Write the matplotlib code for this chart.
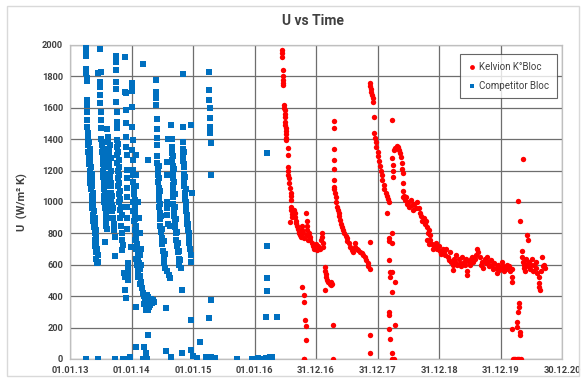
import numpy as np
import pandas as pd
import matplotlib
matplotlib.use('Agg')
import matplotlib.pyplot as plt
from matplotlib.patches import Rectangle

plt.rcParams['font.family'] = ['Roboto', 'DejaVu Sans']

# time is given in "grid years" (1.0 = 365 days after 01.01.13), U in W/m2K
competitor_points = [
    # early 2013 streak
    (2013.26, 2000), (2013.26, 1980), (2013.26, 1960), (2013.26, 1930), (2013.26, 1850),
    (2013.26, 1820), (2013.27, 1790), (2013.27, 1770), (2013.27, 1650), (2013.27, 1620),
    (2013.28, 1570), (2013.28, 1520), (2013.28, 1480), (2013.29, 1440), (2013.29, 1400),
    (2013.30, 1360), (2013.30, 1320), (2013.31, 1280), (2013.31, 1240), (2013.32, 1200),
    (2013.33, 1160), (2013.33, 1120), (2013.34, 1080), (2013.35, 1040), (2013.35, 1000),
    (2013.36, 960), (2013.37, 920), (2013.38, 880), (2013.39, 840), (2013.40, 800),
    (2013.40, 760), (2013.41, 720), (2013.42, 680), (2013.43, 640), (2013.44, 610),
    (2013.31, 1380), (2013.32, 1340), (2013.32, 1300), (2013.33, 1260), (2013.34, 1220),
    (2013.35, 1180), (2013.35, 1140), (2013.36, 1100), (2013.37, 1060), (2013.37, 1020),
    (2013.38, 980), (2013.39, 940), (2013.40, 900), (2013.41, 860), (2013.42, 820),
    (2013.42, 780), (2013.43, 740), (2013.44, 700), (2013.45, 660), (2013.45, 620),
    # mid 2013
    (2013.48, 1975), (2013.46, 1820), (2013.50, 1830), (2013.49, 1765), (2013.49, 1735),
    (2013.49, 1680), (2013.49, 1630), (2013.50, 1575), (2013.51, 1520), (2013.51, 1470),
    (2013.51, 1400), (2013.52, 1360), (2013.52, 1320), (2013.53, 1280), (2013.53, 1240),
    (2013.54, 1200), (2013.54, 1160), (2013.55, 1120), (2013.55, 1080), (2013.56, 1040),
    (2013.56, 1000), (2013.57, 960), (2013.58, 920), (2013.58, 880), (2013.59, 850),
    (2013.60, 830), (2013.57, 745), (2013.53, 1380), (2013.54, 1340), (2013.54, 1300),
    (2013.55, 1260), (2013.55, 1220), (2013.56, 1180), (2013.56, 1140), (2013.57, 1100),
    (2013.57, 1060), (2013.58, 1020), (2013.58, 980), (2013.59, 940), (2013.60, 900),
    (2013.60, 1465), (2013.62, 1415), (2013.62, 1380), (2013.63, 1340), (2013.63, 1300),
    (2013.64, 1260), (2013.64, 1220), (2013.65, 1180), (2013.65, 1140), (2013.66, 1100),
    (2013.67, 1060), (2013.67, 1020), (2013.68, 980), (2013.69, 940), (2013.70, 900),
    (2013.71, 860), (2013.72, 820), (2013.73, 780), (2013.73, 655), (2013.65, 1360),
    (2013.66, 1280), (2013.66, 1200), (2013.67, 1120), (2013.69, 1040), (2013.70, 960),
    # autumn 2013
    (2013.75, 1930), (2013.74, 1890), (2013.75, 1840), (2013.75, 1765), (2013.75, 1720),
    (2013.75, 1640), (2013.76, 1575), (2013.76, 1510), (2013.76, 1470), (2013.76, 1395),
    (2013.77, 1350), (2013.77, 1300), (2013.77, 1250), (2013.78, 1200), (2013.78, 1150),
    (2013.78, 1100), (2013.79, 1050), (2013.80, 1000), (2013.81, 950), (2013.82, 900),
    (2013.83, 850), (2013.84, 800), (2013.85, 760), (2013.86, 725), (2013.84, 695),
    (2013.78, 1370), (2013.78, 1320), (2013.79, 1270), (2013.79, 1220), (2013.80, 1170),
    (2013.80, 1120), (2013.81, 1070), (2013.82, 1020), (2013.83, 970), (2013.84, 920),
    (2013.90, 1925), (2013.90, 1700), (2013.91, 1585), (2013.91, 1500), (2013.91, 1415),
    (2013.91, 1350), (2013.92, 1300), (2013.92, 1205), (2013.92, 1150), (2013.92, 1090),
    (2013.92, 1030), (2013.92, 970), (2013.92, 900), (2013.92, 830),
    (2013.90, 535), (2013.88, 550), (2013.89, 520), (2013.89, 440), (2013.91, 390),
    (2013.94, 610), (2013.94, 580), (2013.94, 540), (2013.94, 500), (2013.99, 715),
    # around 01.01.14
    (2014.00, 1760), (2014.00, 1735), (2014.00, 1710), (2013.91, 1695), (2014.01, 1605),
    (2014.01, 1480), (2014.02, 1395), (2014.01, 1330), (2014.08, 1300), (2014.02, 1270),
    (2014.02, 1205), (2014.03, 1170), (2014.08, 1170), (2014.03, 1130), (2014.04, 1090),
    (2014.04, 1050), (2014.05, 1010), (2014.05, 970), (2014.06, 930), (2014.06, 890),
    (2014.07, 850), (2014.07, 810), (2014.08, 770), (2014.09, 730), (2014.10, 690),
    (2014.11, 650), (2014.12, 610), (2014.13, 570), (2014.14, 530), (2014.15, 490),
    (2014.17, 450), (2014.19, 420), (2014.07, 1100), (2014.10, 1000), (2014.12, 900),
    (2014.13, 800), (2014.15, 700), (2014.03, 1000), (2014.03, 940), (2014.04, 880),
    (2014.05, 820), (2014.06, 760), (2014.07, 700), (2014.08, 640), (2014.09, 600),
    (2014.10, 560), (2014.11, 520), (2014.13, 480), (2014.14, 660), (2014.16, 600),
    (2014.20, 400), (2014.22, 390), (2014.24, 380), (2014.26, 370), (2014.28, 360),
    (2014.21, 350), (2014.25, 340), (2014.30, 375), (2014.32, 380), (2014.33, 360),
    (2014.23, 310), (2014.27, 315), (2014.25, 410), (2014.27, 395), (2014.29, 385),
    (2014.31, 370), (2014.33, 355), (2014.28, 330), (2014.30, 345), (2014.35, 375),
    (2014.36, 360), (2014.18, 1880), (2014.26, 1270),
    # spring 2014
    (2014.40, 1780), (2014.40, 1700), (2014.40, 1660), (2014.40, 1615), (2014.41, 1530),
    (2014.41, 1465), (2014.41, 1410), (2014.42, 1360), (2014.42, 1290), (2014.42, 1250),
    (2014.43, 1210), (2014.43, 1170), (2014.43, 1130), (2014.44, 1090), (2014.44, 1050),
    (2014.45, 1010), (2014.45, 970), (2014.46, 930), (2014.46, 890), (2014.47, 850),
    (2014.48, 810), (2014.49, 770), (2014.50, 730), (2014.51, 690), (2014.52, 650),
    (2014.53, 610), (2014.55, 580), (2014.58, 560), (2014.61, 535), (2014.63, 515),
    (2014.57, 1255), (2014.57, 1170), (2014.44, 1230), (2014.45, 1150), (2014.46, 1070),
    (2014.47, 990), (2014.48, 910), (2014.50, 830), (2014.52, 750), (2014.54, 670),
    # summer 2014
    (2014.64, 1490), (2014.59, 1400), (2014.66, 1400), (2014.66, 1350), (2014.66, 1310),
    (2014.66, 1270), (2014.67, 1230), (2014.67, 1190), (2014.67, 1150), (2014.67, 1110),
    (2014.67, 1070), (2014.68, 1030), (2014.68, 990), (2014.69, 950), (2014.69, 910),
    (2014.70, 870), (2014.71, 840), (2014.72, 800), (2014.73, 760), (2014.74, 720),
    (2014.75, 680), (2014.77, 640), (2014.78, 600), (2014.80, 580), (2014.58, 1000),
    (2014.58, 960), (2014.58, 920), (2014.60, 860), (2014.63, 850), (2014.66, 845),
    (2014.68, 1290), (2014.69, 1210), (2014.69, 1130), (2014.70, 1050), (2014.71, 970),
    (2014.72, 890), (2014.74, 810), (2014.75, 740), (2014.77, 690), (2014.79, 630),
    # autumn 2014
    (2014.83, 1815), (2014.83, 1475), (2014.96, 1490), (2014.83, 1380), (2014.84, 1340),
    (2014.84, 1300), (2014.84, 1260), (2014.85, 1220), (2014.85, 1180), (2014.86, 1140),
    (2014.86, 1100), (2014.87, 1060), (2014.87, 1020), (2014.88, 980), (2014.89, 940),
    (2014.90, 900), (2014.91, 860), (2014.92, 820), (2014.93, 780), (2014.94, 740),
    (2014.95, 700), (2014.96, 660), (2014.96, 620), (2014.99, 1060), (2014.86, 1320),
    (2014.86, 1240), (2014.87, 1160), (2014.88, 1080), (2014.89, 1000), (2014.90, 920),
    (2014.92, 860), (2014.94, 800),
    # 2015
    (2015.26, 1830), (2015.26, 1715), (2015.26, 1650), (2015.27, 1600), (2015.27, 1535),
    (2015.27, 1480), (2015.28, 1460), (2015.28, 1440), (2015.29, 1375), (2015.29, 1170),
    # low values
    (2013.26, 0), (2013.45, 0), (2013.73, 0), (2013.86, 0), (2013.89, 0), (2013.97, 10),
    (2014.07, 330), (2014.07, 75), (2014.21, 75), (2014.23, 35), (2014.26, 150),
    (2014.18, 0), (2014.20, 0), (2014.23, 0), (2014.25, 0), (2014.56, 325), (2014.56, 50),
    (2014.64, 15), (2014.82, 35), (2014.82, 440), (2014.96, 250), (2014.96, 55),
    (2015.00, 20), (2015.06, 5), (2015.11, 110), (2015.21, 10), (2015.26, 260),
    (2015.29, 375), (2015.29, 10), (2015.32, 5), (2015.35, 8), (2015.71, 0), (2015.96, 0),
    (2016.05, 5), (2016.18, 5), (2016.21, 8), (2016.25, 10), (2016.28, 10), (2016.14, 0),
    (2016.20, 515), (2016.20, 430), (2016.18, 270), (2016.36, 265), (2016.21, 1310),
    (2016.21, 720),
]

kelvion_points = [
    # 2016 run
    (2016.44, 1970), (2016.44, 1950), (2016.45, 1925), (2016.46, 1840), (2016.46, 1800),
    (2016.47, 1780), (2016.47, 1760), (2016.47, 1745), (2016.48, 1620), (2016.48, 1600),
    (2016.49, 1585), (2016.49, 1560), (2016.49, 1540), (2016.50, 1510), (2016.50, 1490),
    (2016.51, 1470), (2016.51, 1450), (2016.51, 1430), (2016.52, 1410), (2016.52, 1395),
    (2016.54, 1345), (2016.54, 1300), (2016.55, 1225), (2016.55, 1200), (2016.55, 1175),
    (2016.56, 1150), (2016.56, 1120), (2016.58, 1090), (2016.59, 1060), (2016.59, 1035),
    (2016.59, 1010), (2016.60, 970), (2016.60, 950), (2016.61, 925), (2016.61, 905),
    (2016.57, 875), (2016.65, 950), (2016.66, 930), (2016.66, 905), (2016.67, 880),
    (2016.68, 865), (2016.69, 850), (2016.70, 830), (2016.72, 810), (2016.73, 800),
    (2016.74, 790), (2016.75, 780), (2016.77, 820), (2016.78, 850), (2016.79, 800),
    (2016.80, 770), (2016.84, 930), (2016.85, 880), (2016.85, 850), (2016.86, 820),
    (2016.86, 790), (2016.87, 760), (2016.89, 800), (2016.90, 780), (2016.91, 760),
    (2016.93, 740), (2016.95, 720), (2016.97, 700), (2016.98, 705), (2017.00, 730),
    (2017.02, 695), (2017.04, 720), (2017.06, 700), (2017.08, 760), (2017.09, 800),
    (2017.10, 780), (2017.11, 740), (2017.12, 715), (2017.14, 585), (2017.15, 560),
    (2017.16, 540), (2017.17, 520), (2017.18, 500), (2017.20, 490), (2017.22, 480),
    (2017.24, 470), (2017.25, 490), (2017.26, 475), (2017.14, 440),
    (2016.78, 460), (2016.80, 410), (2016.80, 365), (2016.82, 250), (2016.83, 210),
    (2016.83, 120), (2016.80, 0), (2016.81, 0),
    # 2017 run
    (2017.29, 1515), (2017.29, 1470), (2017.29, 1340), (2017.29, 1265), (2017.29, 1210),
    (2017.29, 1140), (2017.30, 1095), (2017.30, 1080), (2017.31, 1060), (2017.32, 1030),
    (2017.33, 1000), (2017.34, 970), (2017.35, 950), (2017.37, 930), (2017.38, 910),
    (2017.39, 885), (2017.41, 860), (2017.43, 840), (2017.44, 820), (2017.46, 800),
    (2017.48, 785), (2017.50, 770), (2017.51, 750), (2017.53, 740), (2017.56, 715),
    (2017.58, 695), (2017.60, 680), (2017.63, 740), (2017.64, 715), (2017.67, 700),
    (2017.69, 695), (2017.72, 680), (2017.74, 675), (2017.77, 660), (2017.79, 650),
    (2017.81, 630), (2017.84, 610), (2017.85, 590), (2017.87, 570), (2017.88, 745),
    (2017.27, 215), (2017.27, 0), (2017.88, 150), (2017.88, 35),
    # end 2017 / 2018 run
    (2017.87, 1760), (2017.88, 1740), (2017.89, 1720), (2017.90, 1700), (2017.91, 1680),
    (2017.92, 1660), (2017.93, 1640), (2017.95, 1540), (2017.95, 1440), (2017.96, 1410),
    (2017.97, 1380), (2017.98, 1350), (2018.00, 1320), (2018.01, 1290), (2018.03, 1260),
    (2018.04, 1230), (2018.05, 1200), (2018.07, 1170), (2018.08, 1140), (2018.10, 1110),
    (2018.11, 1080), (2018.13, 1060), (2018.15, 1040), (2018.17, 1020), (2018.19, 1000),
    (2018.23, 1520), (2018.16, 930), (2018.18, 770), (2018.19, 750), (2018.24, 800),
    (2018.24, 740), (2018.18, 630), (2018.20, 555), (2018.24, 555), (2018.20, 520),
    (2018.29, 490), (2018.24, 425), (2018.18, 300), (2018.18, 280), (2018.18, 190),
    (2018.21, 125), (2018.23, 40), (2018.23, 0), (2018.26, 0), (2018.28, 215),
    (2018.24, 1280), (2018.25, 1235), (2018.25, 1200), (2018.25, 1160), (2018.27, 1330),
    (2018.29, 1345), (2018.31, 1355), (2018.33, 1350), (2018.35, 1330), (2018.37, 1310),
    (2018.39, 1285), (2018.40, 1250), (2018.40, 1210), (2018.41, 1185), (2018.41, 1120),
    (2018.41, 1070), (2018.41, 1030), (2018.43, 1040), (2018.45, 1010), (2018.47, 1030),
    (2018.48, 990), (2018.50, 1000), (2018.52, 970), (2018.54, 1010), (2018.56, 980),
    (2018.58, 950), (2018.60, 990), (2018.62, 960), (2018.65, 1000), (2018.67, 960),
    (2018.69, 930), (2018.71, 910), (2018.73, 880), (2018.75, 900), (2018.77, 860),
    (2018.79, 880), (2018.81, 840), (2018.82, 800), (2018.84, 820), (2018.85, 790),
    (2018.80, 760), (2018.83, 730), (2018.86, 760), (2018.88, 730), (2018.90, 700),
    (2018.92, 720), (2018.95, 740), (2018.97, 700), (2019.00, 720), (2019.02, 690),
    (2019.04, 670), (2019.06, 700), (2019.08, 680), (2019.10, 660), (2019.12, 700),
    (2019.14, 650), (2019.16, 630), (2019.18, 680), (2019.20, 620), (2019.22, 600),
    (2019.22, 565), (2019.24, 640), (2019.26, 620), (2019.28, 660), (2019.30, 600),
    (2019.32, 640), (2019.34, 610), (2019.36, 590), (2019.38, 650), (2019.40, 620),
    (2019.42, 600), (2019.44, 640), (2019.46, 560), (2019.46, 535), (2019.48, 620),
    (2019.50, 600), (2019.52, 640), (2019.54, 650), (2019.56, 620), (2019.58, 640),
    (2019.60, 660), (2019.62, 700), (2019.64, 680), (2019.66, 650), (2019.68, 600),
    (2019.70, 620), (2019.72, 580), (2019.74, 640), (2019.76, 610), (2019.78, 650),
    (2019.80, 620), (2019.82, 590), (2019.84, 630), (2019.86, 600), (2019.88, 570),
    (2019.90, 610), (2019.92, 580), (2019.94, 550), (2019.96, 600), (2019.98, 565),
    (2020.00, 580), (2020.02, 620), (2020.04, 590), (2020.06, 560), (2020.08, 580),
    (2020.10, 600), (2020.12, 570), (2020.14, 590), (2020.16, 560), (2020.18, 575),
    (2020.19, 520), (2020.19, 490),
    # 2020 run
    (2020.37, 1275), (2020.29, 1005), (2020.32, 880), (2020.43, 790), (2020.44, 760),
    (2020.35, 690), (2020.35, 650), (2020.37, 620), (2020.38, 600), (2020.39, 580),
    (2020.40, 560), (2020.42, 640), (2020.44, 610), (2020.45, 590), (2020.47, 620),
    (2020.48, 575), (2020.50, 600), (2020.52, 640), (2020.53, 560), (2020.55, 600),
    (2020.57, 620), (2020.58, 580), (2020.60, 550), (2020.62, 520), (2020.63, 485),
    (2020.63, 460), (2020.64, 440), (2020.66, 560), (2020.68, 650), (2020.69, 590),
    (2020.71, 600), (2020.72, 580),
    (2020.30, 355), (2020.30, 330), (2020.29, 300), (2020.27, 235), (2020.26, 205),
    (2020.31, 170), (2020.31, 150), (2020.19, 190), (2020.20, 0), (2020.22, 0),
    (2020.24, 0), (2020.26, 0), (2020.28, 0), (2020.30, 0), (2020.33, 0),
]

x_tick_labels = ['01.01.13', '01.01.14', '01.01.15', '01.01.16', '31.12.16',
                 '31.12.17', '31.12.18', '31.12.19', '30.12.20']
y_ticks = [0, 200, 400, 600, 800, 1000, 1200, 1400, 1600, 1800, 2000]

start = pd.Timestamp('2013-01-01')


def to_dates(years):
    return start + pd.to_timedelta((np.asarray(years) - 2013) * 365, unit='D')


comp_t, comp_u = zip(*competitor_points)
kel_t, kel_u = zip(*kelvion_points)

fig = plt.figure(figsize=(5.85, 3.78), dpi=100)
fig.patches.append(Rectangle((0.012, 0.005), 0.978, 0.978, transform=fig.transFigure,
                             fill=False, edgecolor='#d9d9d9', linewidth=1.0))
ax = fig.add_axes([0.1197, 0.0503, 0.841, 0.8307])

ax.scatter(to_dates(kel_t), kel_u, s=15, marker='o', color='#ff0000', linewidths=0,
           label='Kelvion K°Bloc', zorder=3)
ax.scatter(to_dates(comp_t), comp_u, s=13, marker='s', color='#0070c0', linewidths=0,
           label='Competitor Bloc', zorder=3)

tick_dates = pd.to_datetime(x_tick_labels, format='%d.%m.%y')
ax.set_xlim(tick_dates[0], tick_dates[-1])
ax.set_xticks(tick_dates)
ax.set_xticklabels(x_tick_labels)
ax.set_ylim(0, 2000)
ax.set_yticks(y_ticks)

ax.grid(True, color='#6e6e6e', linewidth=0.9)
ax.set_axisbelow(True)
for side in ['left', 'bottom', 'top', 'right']:
    ax.spines[side].set_color('#bfbfbf')
    ax.spines[side].set_linewidth(0.9)
ax.tick_params(length=0, labelsize=6.7, labelcolor='#404040', pad=5)
for lbl in ax.get_xticklabels() + ax.get_yticklabels():
    lbl.set_fontweight('bold')

ax.set_ylabel('U  (W/m² K)', fontsize=8, fontweight='bold', color='#404040', labelpad=10)
fig.text(0.535, 0.945, 'U vs Time', ha='center', va='center', fontsize=10,
         fontweight='bold', color='#404040')

leg = ax.legend(loc='upper right', bbox_to_anchor=(557 / 585, 1 - 54 / 378),
                bbox_transform=fig.transFigure, borderaxespad=0, fontsize=7,
                frameon=True, fancybox=False, handletextpad=0.2, handlelength=1.0,
                labelspacing=0.9, borderpad=0.8, markerscale=0.9)
leg.get_frame().set_edgecolor('#404040')
leg.get_frame().set_linewidth(0.8)
for t in leg.get_texts():
    t.set_color('#404040')

fig.savefig('out.png', dpi=100)
